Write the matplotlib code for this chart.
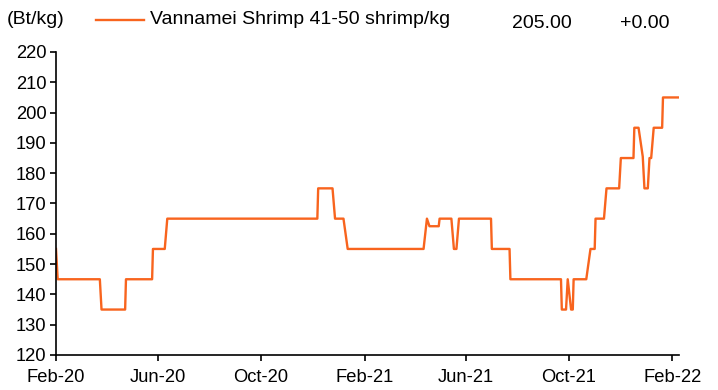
import matplotlib
matplotlib.use("Agg")
import matplotlib.pyplot as plt
import matplotlib.dates as mdates
import numpy as np
import pandas as pd

plt.rcParams['font.family'] = ['Liberation Sans', 'DejaVu Sans']

# price turning points (Bt/kg)
dates = [
    "2020-02-01", "2020-02-03", "2020-03-24", "2020-03-26", "2020-04-23", "2020-04-24",
    "2020-05-25", "2020-05-26", "2020-06-09", "2020-06-12",
    "2020-12-07", "2020-12-08", "2020-12-25", "2020-12-28", "2021-01-07", "2021-01-12",
    "2021-04-12", "2021-04-16", "2021-04-19", "2021-04-30", "2021-05-01",
    "2021-05-15", "2021-05-18", "2021-05-21", "2021-05-24",
    "2021-07-01", "2021-07-02", "2021-07-23", "2021-07-24",
    "2021-09-22", "2021-09-23", "2021-09-28", "2021-09-30", "2021-10-04", "2021-10-06", "2021-10-07",
    "2021-10-22", "2021-10-27", "2021-11-01", "2021-11-02",
    "2021-11-12", "2021-11-15", "2021-11-30", "2021-12-02",
    "2021-12-17", "2021-12-18", "2021-12-23", "2021-12-28", "2021-12-30",
    "2022-01-03", "2022-01-05", "2022-01-07", "2022-01-10",
    "2022-01-20", "2022-01-21", "2022-02-09",
]
prices = [
    155, 145, 145, 135, 135, 145,
    145, 155, 155, 165,
    165, 175, 175, 165, 165, 155,
    155, 165, 162.5, 162.5, 165,
    165, 155, 155, 165,
    165, 155, 155, 145,
    145, 135, 135, 145, 135, 135, 145,
    145, 155, 155, 165,
    165, 175, 175, 185,
    185, 195, 195, 185.5, 175,
    175, 185, 185, 195,
    195, 205, 205,
]
x_ticks = ["2020-02-01", "2020-06-01", "2020-10-01", "2021-02-01",
           "2021-06-01", "2021-10-01", "2022-02-01"]
series_name = "Vannamei Shrimp 41-50 shrimp/kg"
last_value = "205.00"
change = "+0.00"

orange = "#F8641E"
fs = 13.2
fs_head = 14

fig = plt.figure(figsize=(7.18, 3.90), dpi=100)
ax = fig.add_axes([56 / 718, 35 / 390, 623 / 718, 303 / 390])

ax.plot(pd.to_datetime(dates), prices, color=orange, lw=1.7)

ax.set_ylim(120, 220)
ax.set_yticks(np.arange(120, 221, 10))
ax.set_xlim(pd.Timestamp("2020-02-01"), pd.Timestamp("2022-02-09"))
ax.set_xticks(pd.to_datetime(x_ticks))
ax.xaxis.set_major_formatter(mdates.DateFormatter("%b-%y"))

for s in ["top", "right"]:
    ax.spines[s].set_visible(False)
for s in ["left", "bottom"]:
    ax.spines[s].set_linewidth(1.2)
ax.tick_params(axis="both", labelsize=fs, length=4, width=1.2, direction="out")
ax.tick_params(axis="y", pad=3)
ax.tick_params(axis="x", pad=6)

# header row: unit, legend line, last value and change
fig.text(7 / 718, 1 - 20 / 390, "(Bt/kg)", fontsize=fs_head, va="center", ha="left")
fig.add_artist(plt.Line2D([96 / 718, 144 / 718], [1 - 20 / 390, 1 - 20 / 390],
                          color=orange, lw=1.7))
fig.text(150 / 718, 1 - 20 / 390, series_name, fontsize=fs_head, va="center", ha="left")
fig.text(512 / 718, 1 - 24 / 390, last_value, fontsize=fs_head, va="center", ha="left")
fig.text(620 / 718, 1 - 24 / 390, change, fontsize=fs_head, va="center", ha="left")

fig.savefig("out.png", dpi=100)
